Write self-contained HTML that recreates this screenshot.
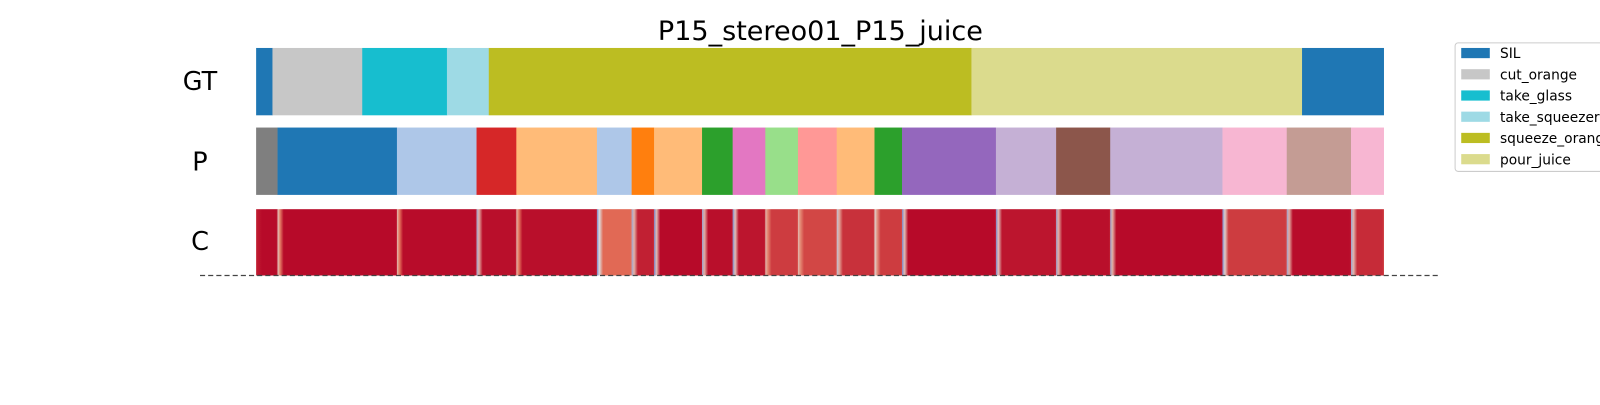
<!DOCTYPE html>
<html><head><meta charset="utf-8">
<style>
body{margin:0;background:#fff;overflow:hidden;}
svg text{font-family:"DejaVu Sans","Liberation Sans",sans-serif;}
</style></head>
<body>
<svg id="chart" width="1600" height="400" viewBox="0 0 1568 392" preserveAspectRatio="none" xmlns="http://www.w3.org/2000/svg">
<defs id="defs"></defs>
<text x="804" y="39" font-size="26.5" text-anchor="middle" fill="#000">P15_stereo01_P15_juice</text>
<text x="196" y="88" font-size="25" text-anchor="middle">GT</text>
<text x="196" y="167" font-size="25" text-anchor="middle">P</text>
<text x="196" y="245" font-size="25" text-anchor="middle">C</text>
<g id="gt"></g>
<g id="pr"></g>
<g id="cf"></g>
<line x1="196" y1="270" x2="1410" y2="270" stroke="#444" stroke-width="1.3" stroke-dasharray="5,3"/>
<g>
<rect x="1426" y="42" width="190" height="126" rx="3" fill="#fff" stroke="#ccc"/>
<g id="legend"></g>
</g>
</svg>
<script>
const gtBounds=[0,16,104,187,228,701,1025,1105];
const gtLabels=["SIL","cut_orange","take_glass","take_squeezer","squeeze_orange","pour_juice","SIL"];
const prBounds=[0,21,138,216,255,334,368,390,437,467,499,531,569,606,633,725,784,837,947,1010,1073,1105];
const prColors=["#7f7f7f","#1f77b4","#aec7e8","#d62728","#ffbb78","#aec7e8","#ff7f0e","#ffbb78","#2ca02c","#e377c2","#98df8a","#ff9896","#ffbb78","#2ca02c","#9467bd","#c5b0d5","#8c564b","#c5b0d5","#f7b6d2","#c49c94","#f7b6d2"];
const confBase=[0.99,0.99,0.985,0.98,0.98,0.82,0.95,0.99,0.98,0.97,0.9,0.88,0.92,0.9,0.99,0.97,0.98,0.99,0.9,0.985,0.93];
const confStart=[0.95,0.55,0.6,0.3,0.6,0.2,0.3,0.2,0.3,0.2,0.6,0.6,0.4,0.5,0.2,0.2,0.3,0.3,0.2,0.3,0.3];
const legendLabels=["SIL","cut_orange","take_glass","take_squeezer","squeeze_orange","pour_juice"];
const legendColors=["#1f77b4","#c7c7c7","#17becf","#9edae5","#bcbd22","#dbdb8d"];
const gtColor={"SIL":"#1f77b4","cut_orange":"#c7c7c7","take_glass":"#17becf","take_squeezer":"#9edae5","squeeze_orange":"#bcbd22","pour_juice":"#dbdb8d"};

const NS="http://www.w3.org/2000/svg";
const X0=251,X1=1356,T=1105;
const xs=t=>X0+(X1-X0)*t/T;
function cw(v){
  const stops=[[0,[59,76,192]],[0.5,[221,221,221]],[0.8,[230,116,90]],[1,[180,4,38]]];
  for(let i=1;i<stops.length;i++){if(v<=stops[i][0]){const a=stops[i-1],b=stops[i];const f=(v-a[0])/(b[0]-a[0]);
    return "rgb("+a[1].map((c,k)=>Math.round(c+(b[1][k]-c)*f)).join(",")+")";}}
  return "rgb(180,4,38)";
}
const gt=document.getElementById('gt');
for(let i=0;i<gtLabels.length;i++){
  const r=document.createElementNS(NS,'rect');
  r.setAttribute('x',xs(gtBounds[i]));r.setAttribute('width',xs(gtBounds[i+1])-xs(gtBounds[i])+0.3);
  r.setAttribute('y',47);r.setAttribute('height',66);r.setAttribute('fill',gtColor[gtLabels[i]]);
  
  
  gt.appendChild(r);
}
const pr=document.getElementById('pr');
for(let i=0;i<prColors.length;i++){
  const r=document.createElementNS(NS,'rect');
  r.setAttribute('x',xs(prBounds[i]));r.setAttribute('width',xs(prBounds[i+1])-xs(prBounds[i])+0.3);
  r.setAttribute('y',125);r.setAttribute('height',66);r.setAttribute('fill',prColors[i]);
  
  
  pr.appendChild(r);
}
const cf=document.getElementById('cf'),defs=document.getElementById('defs');
for(let i=0;i<confBase.length;i++){
  const x=xs(prBounds[i]),w=xs(prBounds[i+1])-x;
  const g=document.createElementNS(NS,'linearGradient');g.id='g'+i;
  const f=Math.min(0.5,6/w);
  [[0,confStart[i]],[f*0.4,(confStart[i]+confBase[i])/2],[f,confBase[i]],[1-f*0.3,confBase[i]],[1,confBase[i]-0.04]].forEach(s=>{
    const st=document.createElementNS(NS,'stop');st.setAttribute('offset',s[0]);st.setAttribute('stop-color',cw(s[1]));g.appendChild(st);});
  defs.appendChild(g);
  const r=document.createElementNS(NS,'rect');
  r.setAttribute('x',x);r.setAttribute('width',w+0.3);r.setAttribute('y',205);r.setAttribute('height',65);
  r.setAttribute('fill','url(#g'+i+')');
  
  
  cf.appendChild(r);
}
const lg=document.getElementById('legend');
legendLabels.forEach((l,i)=>{
  const y=52+i*20.8;
  const r=document.createElementNS(NS,'rect');
  r.setAttribute('x',1432);r.setAttribute('y',y-5);r.setAttribute('width',28);r.setAttribute('height',10);r.setAttribute('fill',legendColors[i]);
  
  
  lg.appendChild(r);
  const t=document.createElementNS(NS,'text');
  t.setAttribute('x',1470);t.setAttribute('y',y+5);t.setAttribute('font-size','13.5');t.textContent=l;
  
  
  lg.appendChild(t);
});
</script>
</body></html>
